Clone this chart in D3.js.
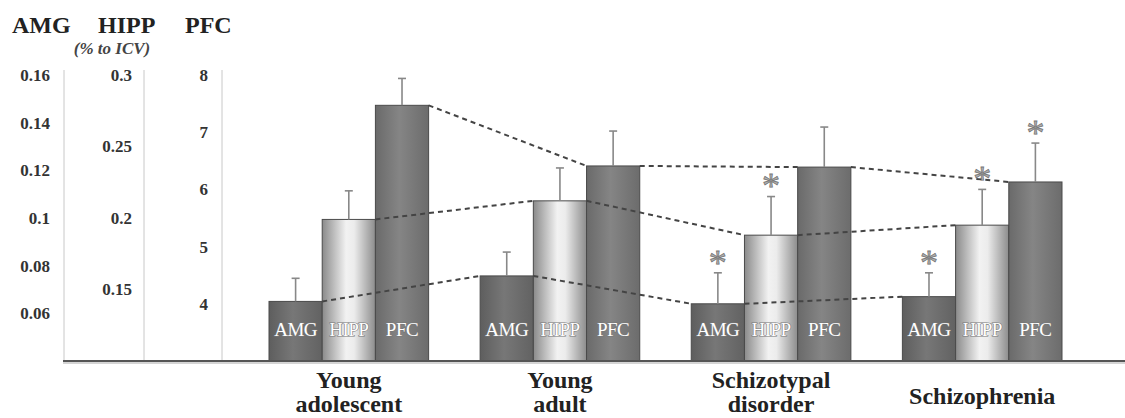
<!DOCTYPE html>
<html>
<head>
<meta charset="utf-8">
<script src="https://cdn.jsdelivr.net/npm/d3@7"></script>
<style>
html,body{margin:0;padding:0;background:#fff;}
svg{display:block;}
</style>
</head>
<body>
<svg id="chart" width="1125" height="418"></svg>
<script>
// ---- data ----
const categories = ["Young adolescent", "Young adult", "Schizotypal disorder", "Schizophrenia"];
const categoryLines = [["Young", "adolescent"], ["Young", "adult"], ["Schizotypal", "disorder"], ["Schizophrenia"]];
const seriesNames = ["AMG", "HIPP", "PFC"];
const amgValues = [0.065, 0.0757, 0.064, 0.067];
const amgErrors = [0.0097, 0.010, 0.013, 0.010];
const hippValues = [0.199, 0.212, 0.188, 0.195];
const hippErrors = [0.020, 0.023, 0.027, 0.025];
const pfcValues = [7.47, 6.41, 6.39, 6.13];
const pfcErrors = [0.47, 0.61, 0.70, 0.68];
const amgSignificant = [false, false, true, true];
const hippSignificant = [false, false, true, true];
const pfcSignificant = [false, false, false, true];
const amgTicks = [0.06, 0.08, 0.1, 0.12, 0.14, 0.16];
const hippTicks = [0.15, 0.2, 0.25, 0.3];
const pfcTicks = [4, 5, 6, 7, 8];
const unitLabel = "(% to ICV)";

// ---- layout ----
const svg = d3.select("#chart");
const baseY = 361, topY = 75;
const serif = "'Liberation Serif','Times New Roman',serif";

const yAMG = d3.scaleLinear().domain([0.04, 0.16]).range([baseY, topY]);
const yHIPP = d3.scaleLinear().domain([0.1, 0.3]).range([baseY, topY]);
const yPFC = d3.scaleLinear().domain([3, 8]).range([baseY, topY]);

const x0 = d3.scaleBand().domain(categories).range([269, 1062]).paddingInner(0.244).paddingOuter(0);
const x1 = d3.scaleBand().domain(seriesNames).range([0, x0.bandwidth()]).padding(0);

const series = [
  {name: "AMG", values: amgValues, errors: amgErrors, sig: amgSignificant, y: yAMG, grad: "gAMG"},
  {name: "HIPP", values: hippValues, errors: hippErrors, sig: hippSignificant, y: yHIPP, grad: "gHIPP"},
  {name: "PFC", values: pfcValues, errors: pfcErrors, sig: pfcSignificant, y: yPFC, grad: "gPFC"}
];

// gradients
const defs = svg.append("defs");
function grad(id, stops) {
  const g = defs.append("linearGradient").attr("id", id).attr("x1", "0%").attr("x2", "100%").attr("y1", "0%").attr("y2", "0%");
  stops.forEach(s => g.append("stop").attr("offset", s[0]).attr("stop-color", s[1]));
}
grad("gAMG", [["0%", "#5e5e5e"], ["45%", "#777777"], ["100%", "#626262"]]);
grad("gHIPP", [["0%", "#8a8a8a"], ["45%", "#f2f2f2"], ["60%", "#ececec"], ["100%", "#8c8c8c"]]);
grad("gPFC", [["0%", "#6a6a6a"], ["45%", "#858585"], ["100%", "#6c6c6c"]]);

// vertical axis lines
[64, 144, 222].forEach(x => {
  svg.append("line").attr("x1", x).attr("x2", x).attr("y1", 70).attr("y2", baseY)
    .attr("stroke", "#c8c8c8").attr("stroke-width", 1);
});

// headers
const headers = [{t: "AMG", x: 12}, {t: "HIPP", x: 98}, {t: "PFC", x: 185}];
svg.selectAll("text.hdr").data(headers).join("text").attr("class", "hdr")
  .attr("x", d => d.x).attr("y", 33).text(d => d.t)
  .attr("font-family", serif).attr("font-weight", "bold").attr("font-size", 24).attr("fill", "#222");
svg.append("text").attr("x", 112).attr("y", 54).attr("text-anchor", "middle").text(unitLabel)
  .attr("font-family", serif).attr("font-weight", "bold").attr("font-style", "italic")
  .attr("font-size", 17).attr("fill", "#444");

// tick axes
function tickAxis(scale, ticks, x) {
  const g = svg.append("g").attr("transform", `translate(${x},0)`)
    .call(d3.axisLeft(scale).tickValues(ticks).tickSize(0).tickPadding(0).tickFormat(d => String(d)));
  g.select(".domain").remove();
  g.selectAll("text").attr("font-family", serif).attr("font-weight", "bold")
    .attr("font-size", 17).attr("fill", "#333");
}
tickAxis(yAMG, amgTicks, 50);
tickAxis(yHIPP, hippTicks, 132);
tickAxis(yPFC, pfcTicks, 208);

// bars
const groups = svg.selectAll("g.grp").data(categories).join("g").attr("class", "grp")
  .attr("transform", d => `translate(${x0(d)},0)`);

series.forEach(s => {
  groups.append("rect")
    .attr("x", x1(s.name)).attr("width", x1.bandwidth())
    .attr("y", (d, i) => s.y(s.values[i]))
    .attr("height", (d, i) => baseY - s.y(s.values[i]))
    .attr("fill", `url(#${s.grad})`).attr("stroke", "#4a4a4a").attr("stroke-width", 1);
});

// baseline
svg.append("line").attr("x1", 63).attr("x2", 1125).attr("y1", baseY).attr("y2", baseY)
  .attr("stroke", "#555").attr("stroke-width", 2);
svg.append("line").attr("x1", 63).attr("x2", 1125).attr("y1", baseY + 2).attr("y2", baseY + 2)
  .attr("stroke", "#aaa").attr("stroke-width", 1);

// dashed connectors: right edge of bar in group g -> left edge of same bar in group g+1
series.forEach(s => {
  for (let i = 0; i < categories.length - 1; i++) {
    const xa = x0(categories[i]) + x1(s.name) + x1.bandwidth();
    const xb = x0(categories[i + 1]) + x1(s.name);
    svg.append("line")
      .attr("x1", xa).attr("y1", s.y(s.values[i]))
      .attr("x2", xb).attr("y2", s.y(s.values[i + 1]))
      .attr("stroke", "#444").attr("stroke-width", 2).attr("stroke-dasharray", "5,4");
  }
});

// error bars
series.forEach(s => {
  groups.each(function(d, i) {
    const g = d3.select(this);
    const cx = x1(s.name) + x1.bandwidth() / 2;
    const yTop = s.y(s.values[i]);
    const yErr = s.y(s.values[i] + s.errors[i]);
    g.append("line").attr("x1", cx).attr("x2", cx).attr("y1", yTop).attr("y2", yErr)
      .attr("stroke", "#888").attr("stroke-width", 1.6);
    g.append("line").attr("x1", cx - 4).attr("x2", cx + 4).attr("y1", yErr).attr("y2", yErr)
      .attr("stroke", "#888").attr("stroke-width", 1.6);
    if (s.sig[i]) {
      g.append("text").attr("x", cx).attr("y", yErr - 15).attr("dy", "0.47em")
        .attr("text-anchor", "middle").text("*")
        .attr("font-family", serif).attr("font-size", 36)
        .attr("fill", "#b0b0b0").attr("stroke", "#777").attr("stroke-width", 0.8);
    }
  });
});

// in-bar labels
series.forEach(s => {
  groups.append("text")
    .attr("x", x1(s.name) + x1.bandwidth() / 2).attr("y", 336)
    .attr("text-anchor", "middle").text(s.name)
    .attr("font-family", serif).attr("font-size", 19).attr("letter-spacing", -0.5)
    .attr("fill", "#fff").attr("stroke", "#777").attr("stroke-width", 1.2)
    .attr("paint-order", "stroke");
});

// category labels
groups.each(function(d, i) {
  const lines = categoryLines[i];
  const cx = x0.bandwidth() / 2;
  const t = d3.select(this).append("text").attr("text-anchor", "middle")
    .attr("font-family", serif).attr("font-weight", "bold").attr("font-size", 24).attr("fill", "#222");
  if (lines.length === 1) {
    t.append("tspan").attr("x", cx).attr("y", 404).text(lines[0]);
  } else {
    lines.forEach((l, k) => t.append("tspan").attr("x", cx).attr("y", 388 + k * 24).text(l));
  }
});
</script>
</body>
</html>
